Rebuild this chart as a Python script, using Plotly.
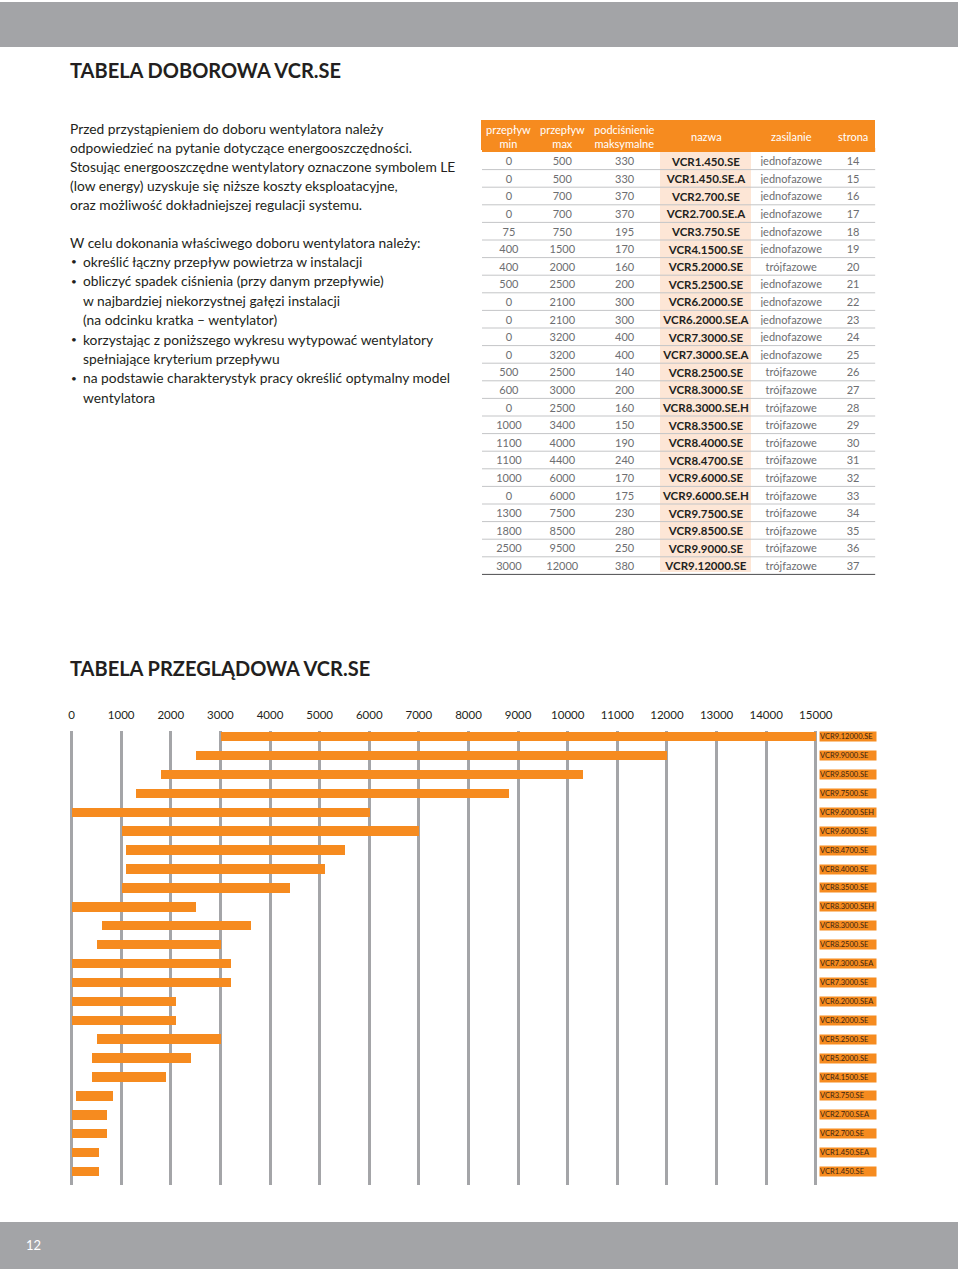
import plotly.graph_objects as go

W, H = 960, 1269

# ---- selection table (top right) ----
col_headers = ["przepływ<br>min", "przepływ<br>max", "podciśnienie<br>maksymalne",
               "nazwa", "zasilanie", "strona"]
flow_min = [0, 0, 0, 0, 75, 400, 400, 500, 0, 0, 0, 0,
            500, 600, 0, 1000, 1100, 1100, 1000, 0, 1300, 1800, 2500, 3000]
flow_max = [500, 500, 700, 700, 750, 1500, 2000, 2500, 2100, 2100, 3200, 3200,
            2500, 3000, 2500, 3400, 4000, 4400, 6000, 6000, 7500, 8500, 9500, 12000]
pressure_max = [330, 330, 370, 370, 195, 170, 160, 200, 300, 300, 400, 400,
                140, 200, 160, 150, 190, 240, 170, 175, 230, 280, 250, 380]
model_names = ["VCR1.450.SE", "VCR1.450.SE.A", "VCR2.700.SE", "VCR2.700.SE.A",
               "VCR3.750.SE", "VCR4.1500.SE", "VCR5.2000.SE", "VCR5.2500.SE",
               "VCR6.2000.SE", "VCR6.2000.SE.A", "VCR7.3000.SE", "VCR7.3000.SE.A",
               "VCR8.2500.SE", "VCR8.3000.SE", "VCR8.3000.SE.H", "VCR8.3500.SE",
               "VCR8.4000.SE", "VCR8.4700.SE", "VCR9.6000.SE", "VCR9.6000.SE.H",
               "VCR9.7500.SE", "VCR9.8500.SE", "VCR9.9000.SE", "VCR9.12000.SE"]
supply = ["jednofazowe"] * 6 + ["trójfazowe", "jednofazowe", "jednofazowe",
          "jednofazowe", "jednofazowe", "jednofazowe"] + ["trójfazowe"] * 12
page_ref = [14, 15, 16, 17, 18, 19, 20, 21, 22, 23, 24, 25,
            26, 27, 28, 29, 30, 31, 32, 33, 34, 35, 36, 37]

# ---- overview chart (bottom), top to bottom as drawn ----
chart_names = ["VCR9.12000.SE", "VCR9.9000.SE", "VCR9.8500.SE", "VCR9.7500.SE",
               "VCR9.6000.SEH", "VCR9.6000.SE", "VCR8.4700.SE", "VCR8.4000.SE",
               "VCR8.3500.SE", "VCR8.3000.SEH", "VCR8.3000.SE", "VCR8.2500.SE",
               "VCR7.3000.SEA", "VCR7.3000.SE", "VCR6.2000.SEA", "VCR6.2000.SE",
               "VCR5.2500.SE", "VCR5.2000.SE", "VCR4.1500.SE", "VCR3.750.SE",
               "VCR2.700.SEA", "VCR2.700.SE", "VCR1.450.SEA", "VCR1.450.SE"]
chart_start = [3000, 2500, 1800, 1300, 0, 1000, 1100, 1100, 1000, 0, 600, 500,
               0, 0, 0, 0, 500, 400, 400, 75, 0, 0, 0, 0]
chart_end = [15000, 12000, 10300, 8800, 6000, 7000, 5500, 5100, 4400, 2500, 3600, 3000,
             3200, 3200, 2100, 2100, 3000, 2400, 1900, 830, 700, 700, 540, 540]
axis_ticks = [0, 1000, 2000, 3000, 4000, 5000, 6000, 7000, 8000,
              9000, 10000, 11000, 12000, 13000, 14000, 15000]
axis_labels = ["0", "1000", "2000", "3000", "4000", "5000", "6000", "7000", "8000",
               "9000", "10000", "11000", "12000", "13000", "14000", "15000"]

ORANGE = "#f68b1f"
PEACH = "#fde6d6"
GREY = "#a4a5a8"
TEXT = "#231f20"
CELL_TEXT = "#6d6e71"
FONT = "Lato"


def px_x(v):
    return v / W


def px_y(v):
    return 1 - v / H


fig = go.Figure()

# table: plotly puts cell text low in the cell, so the header is drawn 3px
# shorter and the missing strip is filled by a shape below
header_h, row_h, header_fix = 29, 17.6, 3
tbl_top, tbl_left, tbl_right = 120, 483, 877
col_w = [54, 53, 72, 91, 80, 44]
col_fill = ["white", "white", "white", PEACH, "white", "white"]
fig.add_trace(go.Table(
    domain=dict(x=[px_x(tbl_left), px_x(tbl_right)], y=[px_y(600), px_y(tbl_top)]),
    columnwidth=col_w,
    header=dict(values=[""] * len(col_headers), fill_color=ORANGE,
                line=dict(color=ORANGE, width=1), height=header_h),
    cells=dict(values=[flow_min, flow_max, pressure_max, model_names, supply, page_ref],
               fill_color=col_fill, line=dict(color=col_fill, width=1),
               font=dict(family=FONT, size=[11, 11, 11, 11.5, 11, 11],
                         weight=[400, 400, 400, 700, 400, 400],
                         color=[CELL_TEXT, CELL_TEXT, CELL_TEXT, TEXT, CELL_TEXT, CELL_TEXT]),
               align="center", height=row_h),
))
head_bottom = tbl_top + header_h + header_fix

annotations = []
# header captions, centred over each column
left = tbl_left
scale_w = (tbl_right - tbl_left) / sum(col_w)
for w, caption in zip(col_w, col_headers):
    cx = left + w * scale_w / 2
    left += w * scale_w
    annotations.append(dict(x=px_x(cx), y=px_y(tbl_top + (head_bottom - tbl_top) / 2),
                            xref="paper", yref="paper", text=caption, showarrow=False,
                            align="center", xanchor="center", yanchor="middle",
                            font=dict(family=FONT, size=11, color="white")))

shapes = [
    dict(type="rect", xref="paper", yref="paper", x0=0, x1=1, y0=px_y(47), y1=px_y(2),
         fillcolor="#a3a4a7", line_width=0, layer="below"),
    dict(type="rect", xref="paper", yref="paper", x0=0, x1=1, y0=0, y1=px_y(1222),
         fillcolor="#a3a4a7", line_width=0, layer="below"),
    dict(type="rect", xref="paper", yref="paper", x0=px_x(tbl_left), x1=px_x(tbl_right),
         y0=px_y(head_bottom), y1=px_y(tbl_top + header_h - 1),
         fillcolor=ORANGE, line_width=0, layer="above"),
]
# row separators of the table
for k in range(1, len(model_names) + 1):
    yy = head_bottom + k * row_h
    last = k == len(model_names)
    shapes.append(dict(type="line", xref="paper", yref="paper",
                       x0=px_x(tbl_left), x1=px_x(tbl_right), y0=px_y(yy), y1=px_y(yy),
                       line=dict(color="#4d4d4f" if last else "#c4c5c7", width=1),
                       layer="above"))

# overview bars
fig.add_trace(go.Bar(
    y=chart_names, x=[e - s for s, e in zip(chart_start, chart_end)], base=chart_start,
    orientation="h", width=0.5, marker=dict(color=ORANGE, line_width=0),
    xaxis="x", yaxis="y", showlegend=False, hoverinfo="skip",
))

for n in chart_names:
    annotations.append(dict(x=15000, y=n, xref="x", yref="y", text=n, showarrow=False,
                            xanchor="left", xshift=3, bgcolor=ORANGE, width=56, height=9,
                            borderpad=0, align="left",
                            font=dict(family=FONT, size=7.5, color="#3a2410")))


def text_line(x, y, s, size=13.8, color=TEXT, weight=400):
    annotations.append(dict(x=px_x(x), y=px_y(y), xref="paper", yref="paper", text=s,
                            showarrow=False, xanchor="left", yanchor="middle",
                            font=dict(family=FONT, size=size, color=color, weight=weight)))


text_line(68, 70, "TABELA DOBOROWA VCR.SE", size=20, weight=700)
text_line(68, 668, "TABELA PRZEGLĄDOWA VCR.SE", size=20, weight=700)

intro = ["Przed przystąpieniem do doboru wentylatora należy",
         "odpowiedzieć na pytanie dotyczące energooszczędności.",
         "Stosując energooszczędne wentylatory oznaczone symbolem LE",
         "(low energy) uzyskuje się niższe koszty eksploatacyjne,",
         "oraz możliwość dokładniejszej regulacji systemu."]
for i, s in enumerate(intro):
    text_line(68, 128 + i * 19.1, s)

steps = [(False, "W celu dokonania właściwego doboru wentylatora należy:"),
         (True, "określić łączny przepływ powietrza w instalacji"),
         (True, "obliczyć spadek ciśnienia (przy danym przepływie)"),
         (None, "w najbardziej niekorzystnej gałęzi instalacji"),
         (None, "(na odcinku kratka – wentylator)"),
         (True, "korzystając z poniższego wykresu wytypować wentylatory"),
         (None, "spełniające kryterium przepływu"),
         (True, "na podstawie charakterystyk pracy określić optymalny model"),
         (None, "wentylatora")]
for i, (bullet, s) in enumerate(steps):
    y = 242 + i * 19.4
    if bullet is False:
        text_line(68, y, s)
    else:
        if bullet:
            text_line(69, y, "•", size=10)
        text_line(81, y, s)

annotations.append(dict(x=px_x(34), y=px_y(1245), xref="paper", yref="paper", text="12",
                        showarrow=False, xanchor="center", yanchor="middle",
                        font=dict(family=FONT, size=13, color="white")))

# chart axes: 0 -> 71.7px, 15000 -> 817.5px ; plot area 731..1185px
scale = (817.5 - 71.7) / 15000
xr = [-300, 15300]
fig.update_layout(
    width=W, height=H, margin=dict(l=0, r=0, t=0, b=0),
    paper_bgcolor="white", plot_bgcolor="white",
    shapes=shapes, annotations=annotations, bargap=0,
    xaxis=dict(domain=[px_x(71.7 + xr[0] * scale), px_x(71.7 + xr[1] * scale)],
               range=xr, side="top", tickvals=axis_ticks, ticktext=axis_labels, ticks="",
               showgrid=True, gridcolor=GREY, gridwidth=3, zeroline=False,
               showline=False, ticklabelstandoff=9,
               tickfont=dict(family=FONT, size=11.5, color=TEXT), fixedrange=True),
    yaxis=dict(domain=[px_y(1185), px_y(731)], type="category",
               categoryorder="array", categoryarray=chart_names,
               range=[23.71, -0.3], showticklabels=False, showgrid=False,
               zeroline=False, showline=False, fixedrange=True),
)

# drop the default 8px page margin so the figure fills the window like the page
fig.write_html("out.html", config={"displayModeBar": False},
               post_script="document.body.style.margin='0';")
